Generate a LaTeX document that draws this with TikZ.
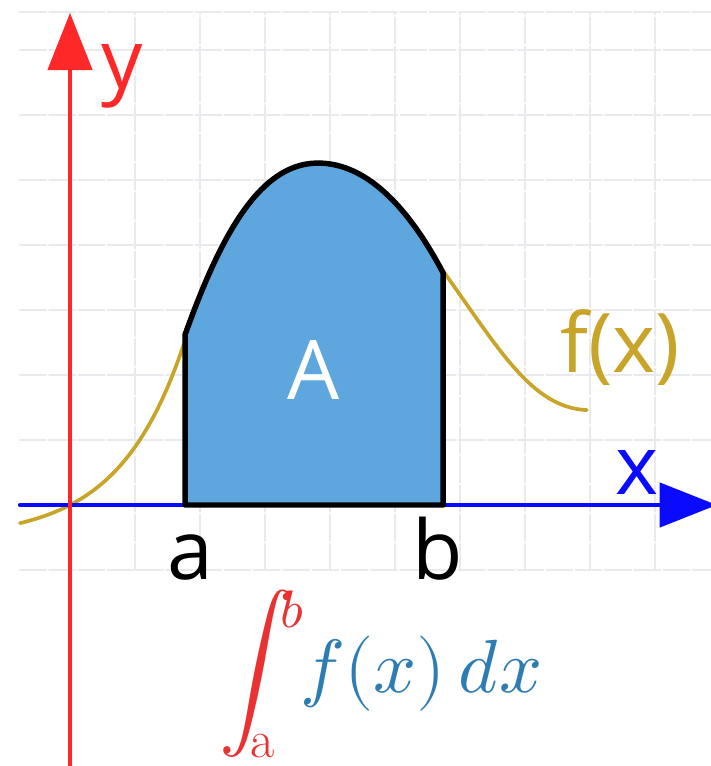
\documentclass[tikz,border=0pt]{standalone}
\usepackage{fontspec}
\usepackage{unicode-math}
\setsansfont{Open Sans}
\setmathfont{Latin Modern Math}
\usetikzlibrary{arrows.meta}
\definecolor{axred}{RGB}{255,40,40}
\definecolor{axblue}{RGB}{10,10,255}
\definecolor{curvegold}{RGB}{200,164,40}
\definecolor{areablue}{RGB}{93,167,222}
\definecolor{intblue}{RGB}{45,125,180}
\definecolor{intred}{RGB}{235,50,50}
\definecolor{gridgray}{RGB}{232,234,238}
\tikzset{
	lbl/.style={font=\sffamily\fontsize{36}{40}\selectfont, inner sep=0pt},
	gridline/.style={gridgray, line width=1pt, dash pattern=on 0.4cm off 0.05cm},
	bigtip/.style={-{Triangle[length=0.88cm,width=0.68cm]}},
}
\begin{document}
\begin{tikzpicture}[line join=round, line cap=round]
	\useasboundingbox[fill=white] (-1.077,-4.015) rectangle (9.846,7.769);
	\draw[gridline] (-0.77,-1) grid (9.85,7.585);
	\draw[gridline] (-0.77,7.585)--(9.85,7.585);
	% f(x) outside the area
	\draw[curvegold, line width=1.6pt, domain=-0.77:1.77, samples=60] plot (\x,{0.52*(exp(\x)-1)});
	\draw[curvegold, line width=1.6pt] (5.74,3.6) .. controls (6.6,2.4) and (7.1,1.5) .. (7.95,1.46);
	% axes
	\draw[axblue, line width=1.8pt, bigtip] (-0.77,0) coordinate(xs) -- (9.95,0) coordinate(xe);
	\draw[axred, line width=1.8pt, bigtip] (0,-4.1) coordinate(ys) -- (0,7.57) coordinate(ye);
	\coordinate (O) at (0,0);
	% the area A
	\draw[fill=areablue, line width=2.4pt] (1.77,0) coordinate(a) -- (1.77,2.62) .. controls (2.3,4.1) and (2.9,5.25) .. (3.8,5.26) coordinate(top) .. controls (4.6,5.27) and (5.25,4.5) .. (5.74,3.57) -- (5.74,0) coordinate(b) -- cycle;
	\node[lbl, white] (A) at (3.74,2.08) {A};
	% labels
	\node[lbl, axred] (ylab) at (0.8,6.6) {y};
	\node[lbl, axblue] (xlab) at (8.72,0.5) {x};
	\node[lbl, curvegold] (flab) at (8.46,2.43) {f(x)};
	\node[lbl, anchor=base] (alab) at (1.85,-1.15) {a};
	\node[lbl, anchor=base] (blab) at (5.65,-1.15) {b};
	\node[inner sep=0pt, anchor=base west, font=\fontsize{33}{40}\selectfont] (integral) at (2.3,-2.89)
		{$\displaystyle\color{intred}\int^{\lower0.32em\hbox{\kern-0.2em$\scriptstyle b$}}_{\raise0.15em\hbox{$\scriptstyle\mathrm{a}$}}\mkern-4mu\color{intblue}f(x)\,dx$};
\end{tikzpicture}
\end{document}
